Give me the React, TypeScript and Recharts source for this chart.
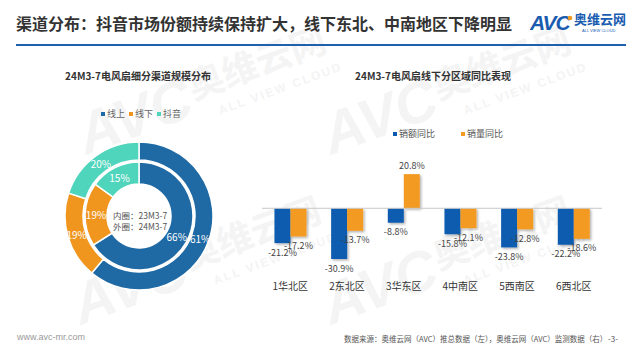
import * as React from "react";
import {
  PieChart,
  Pie,
  Cell,
  BarChart,
  Bar,
  XAxis,
  YAxis,
  ReferenceLine,
  LabelList,
} from "recharts";

// 左图：渠道结构（%）
const channels = ["线上", "线下", "抖音"];
const share23 = [66, 19, 15]; // 内圈 23M3-7
const share24 = [61, 19, 20]; // 外圈 24M3-7
const channelColors = ["#1f6aa5", "#f0961f", "#4fd5bc"];

// 右图：线下分区域同比（%）
const regions = ["1华北区", "2东北区", "3华东区", "4中南区", "5西南区", "6西北区"];
const amountYoY = [-21.2, -30.9, -8.8, -15.8, -23.8, -22.2];
const volumeYoY = [-17.2, -13.7, 20.8, -12.1, -12.8, -18.6];
const barSeries = [
  { key: "amount", name: "销额同比", color: "#0a5bb0" },
  { key: "volume", name: "销量同比", color: "#f39a21" },
];

const FONT = '"Noto Sans CJK SC", "Noto Sans", sans-serif';

const innerData = channels.map((name, i) => ({ name, value: share23[i] }));
const outerData = channels.map((name, i) => ({ name, value: share24[i] }));
const barData = regions.map((region, i) => ({
  region,
  amount: amountYoY[i],
  volume: volumeYoY[i],
}));

const RAD = Math.PI / 180;

const pieLabel = (p: any) => {
  const r = (p.innerRadius + p.outerRadius) / 2;
  const x = p.cx + r * Math.cos(-p.midAngle * RAD);
  const y = p.cy + r * Math.sin(-p.midAngle * RAD);
  return (
    <text
      x={x}
      y={y}
      fill="#fff"
      fontSize={10}
      fontFamily={FONT}
      textAnchor="middle"
      dominantBaseline="central"
    >
      {p.value}%
    </text>
  );
};

const barLabel = (p: any) => {
  const top = Math.min(p.y, p.y + p.height);
  const bottom = Math.max(p.y, p.y + p.height);
  const neg = p.value < 0;
  return (
    <text
      x={p.x + p.width / 2}
      y={neg ? bottom + 9 : top - 9}
      fill="#444"
      fontSize={9}
      fontFamily={FONT}
      textAnchor="middle"
      dominantBaseline="central"
    >
      {p.value.toFixed(1)}%
    </text>
  );
};

const Watermark = ({ x, y }: { x: number; y: number }) => (
  <g transform={`translate(${x},${y}) rotate(-20)`} fill="#f4f4f4">
    <text x={-150} y={20} fontSize={58} fontWeight={700} fontStyle="italic" fontFamily="Liberation Sans">
      AVC
    </text>
    <text x={-30} y={5} fontSize={36} fontWeight={700} fontFamily={FONT}>
      奥维云网
    </text>
    <text x={-10} y={28} fontSize={12} fontWeight={700} letterSpacing={2} fontFamily="Liberation Sans">
      ALL VIEW CLOUD
    </text>
  </g>
);

const LegendItem = ({ color, label, gap }: { color: string; label: string; gap: number }) => (
  <span style={{ display: "inline-flex", alignItems: "center", marginRight: gap }}>
    <span style={{ width: 4, height: 4, background: color, marginRight: 2 }} />
    {label}
  </span>
);

export default function App() {
  return (
    <div
      style={{
        position: "absolute",
        left: 0,
        top: 0,
        width: 640,
        height: 360,
        background: "#fff",
        overflow: "hidden",
        fontFamily: FONT,
      }}
    >
      <svg width={640} height={360} style={{ position: "absolute", left: 0, top: 0 }}>
        <Watermark x={220} y={85} />
        <Watermark x={465} y={85} />
        <Watermark x={215} y={255} />
        <Watermark x={465} y={255} />
        {/* 页眉蓝线 */}
        <rect x={16} y={44} width={610} height={2} fill="#1f5fae" />
      </svg>

      <div
        style={{
          position: "absolute",
          left: 16,
          top: 11,
          fontSize: 16,
          fontWeight: 700,
          color: "#333",
          whiteSpace: "nowrap",
        }}
      >
        渠道分布：抖音市场份额持续保持扩大，线下东北、中南地区下降明显
      </div>

      {/* logo */}
      <svg width={110} height={30} style={{ position: "absolute", left: 528, top: 9 }}>
        <text x={2} y={21} fontSize={21} fontWeight={700} fontStyle="italic" fill="#1a5cb0" fontFamily="Liberation Sans" letterSpacing={-1}>
          AVC
        </text>
        <circle cx={42} cy={9} r={2.3} fill="#f39a21" />
        <text x={46} y={15} fontSize={13} fontWeight={700} fill="#1a5cb0" fontFamily={FONT}>
          奥维云网
        </text>
        <text x={54} y={23} fontSize={4} fill="#1a5cb0" fontFamily="Liberation Sans">
          ALL VIEW CLOUD
        </text>
      </svg>

      {/* 左图 */}
      <div
        style={{
          position: "absolute",
          left: 38,
          width: 200,
          top: 68,
          textAlign: "center",
          fontSize: 10,
          fontWeight: 700,
          color: "#333",
        }}
      >
        24M3-7电风扇细分渠道规模分布
      </div>
      <div
        style={{
          position: "absolute",
          left: 101,
          top: 107,
          fontSize: 9,
          color: "#666",
          display: "flex",
          whiteSpace: "nowrap",
        }}
      >
        {channels.map((c, i) => (
          <LegendItem key={c} color={channelColors[i]} label={c} gap={4} />
        ))}
      </div>
      <div style={{ position: "absolute", left: 0, top: 90 }}>
        <PieChart width={280} height={230} margin={{ top: 0, right: 0, bottom: 0, left: 0 }}>
          <Pie
            data={innerData}
            dataKey="value"
            cx={139}
            cy={126}
            innerRadius={32}
            outerRadius={54}
            startAngle={90}
            endAngle={-270}
            stroke="#fff"
            strokeWidth={1.5}
            labelLine={false}
            label={pieLabel}
            isAnimationActive={false}
          >
            {innerData.map((d, i) => (
              <Cell key={d.name} fill={channelColors[i]} />
            ))}
          </Pie>
          <Pie
            data={outerData}
            dataKey="value"
            cx={139}
            cy={126}
            innerRadius={56}
            outerRadius={74}
            startAngle={90}
            endAngle={-270}
            stroke="#fff"
            strokeWidth={1.5}
            labelLine={false}
            label={pieLabel}
            isAnimationActive={false}
          >
            {outerData.map((d, i) => (
              <Cell key={d.name} fill={channelColors[i]} />
            ))}
          </Pie>
        </PieChart>
      </div>
      <div
        style={{
          position: "absolute",
          left: 113,
          top: 210,
          fontSize: 8.5,
          lineHeight: "11px",
          color: "#555",
          whiteSpace: "nowrap",
        }}
      >
        <div>内圈：23M3-7</div>
        <div>外圈：24M3-7</div>
      </div>

      {/* 右图 */}
      <div
        style={{
          position: "absolute",
          left: 333,
          width: 200,
          top: 68,
          textAlign: "center",
          fontSize: 10,
          fontWeight: 700,
          color: "#333",
        }}
      >
        24M3-7电风扇线下分区域同比表现
      </div>
      <div
        style={{
          position: "absolute",
          left: 393,
          top: 127,
          fontSize: 9,
          color: "#555",
          display: "flex",
          whiteSpace: "nowrap",
        }}
      >
        {barSeries.map((s) => (
          <LegendItem key={s.key} color={s.color} label={s.name} gap={26} />
        ))}
      </div>
      <div style={{ position: "absolute", left: 262, top: 150 }}>
        <BarChart
          width={340}
          height={150}
          data={barData}
          margin={{ top: 9, right: 0, bottom: 10, left: 0 }}
          barCategoryGap="22%"
          barGap={0}
        >
          <defs>
            <filter id="barShadow" x="-20%" y="-20%" width="150%" height="150%">
              <feDropShadow dx={1.5} dy={1.5} stdDeviation={1} floodColor="#000" floodOpacity={0.3} />
            </filter>
          </defs>
          <XAxis
            dataKey="region"
            height={16}
            axisLine={false}
            tickLine={false}
            tickMargin={3}
            interval={0}
            tick={{ fontSize: 10, fill: "#333", fontFamily: FONT }}
          />
          <YAxis hide domain={[-40, 30]} />
          <ReferenceLine y={0} stroke="#c8c8c8" strokeWidth={1} />
          {barSeries.map((s) => (
            <Bar
              key={s.key}
              dataKey={s.key}
              name={s.name}
              fill={s.color}
              filter="url(#barShadow)"
              isAnimationActive={false}
            >
              <LabelList dataKey={s.key} content={barLabel} />
            </Bar>
          ))}
        </BarChart>
      </div>

      {/* 页脚 */}
      <div style={{ position: "absolute", left: 17, top: 332, fontSize: 9, color: "#999", fontFamily: "Liberation Sans" }}>
        www.avc-mr.com
      </div>
      <div style={{ position: "absolute", left: 344, top: 333, fontSize: 7.5, color: "#555", whiteSpace: "nowrap" }}>
        数据来源：奥维云网（AVC）推总数据（左），奥维云网（AVC）监测数据（右）
      </div>
      <div style={{ position: "absolute", left: 608, top: 333, fontSize: 8, color: "#555" }}>-3-</div>
    </div>
  );
}
